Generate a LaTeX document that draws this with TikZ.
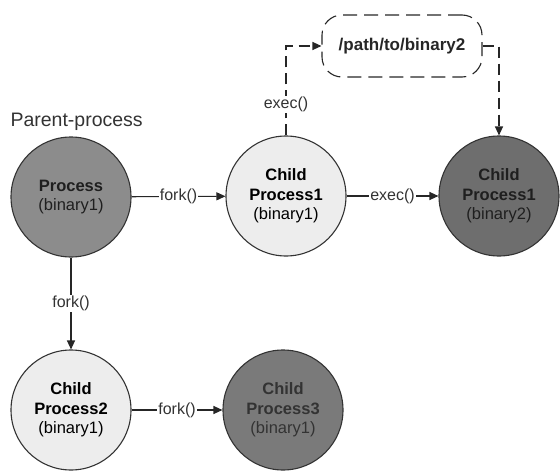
\documentclass[tikz,border=0pt]{standalone}
\usepackage{fontspec}
\setmainfont{Liberation Sans}
\usetikzlibrary{arrows.meta,positioning,calc}
\begin{document}
\begin{tikzpicture}[x=1pt,y=-1pt,
  proc/.style={circle,draw=black!80,line width=1.1pt,minimum size=120pt,inner sep=0pt,align=center,
    font=\fontsize{16.5}{19.5}\selectfont},
  light/.style={proc,fill=black!7},
  mid/.style={proc,fill=black!45,text=black!88},
  dark/.style={proc,fill=black!57,text=black!88},
  conn/.style={line width=1.1pt,draw=black!85,-{Triangle[length=9pt,width=8pt]}},
  dconn/.style={conn,dash pattern=on 11pt off 6pt},
  lbl/.style={fill=white,inner sep=1pt,font=\fontsize{16}{19}\selectfont,text=black!80},
  pathbox/.style={draw=black!85,line width=1.1pt,dash pattern=on 14pt off 7pt,rounded corners=20pt,
    minimum width=160pt,minimum height=62pt,font=\bfseries\fontsize{17}{20}\selectfont,text=black!85}]
\useasboundingbox (0,0) rectangle (560,471);
\node[anchor=west,font=\fontsize{19.5}{22}\selectfont,text=black!80] (title) at (7,122) {Parent-process};
\node[mid] (p) at (71,197) {\textbf{Process}\\(binary1)};
\node[light] (c1) at (286,196) {\textbf{Child}\\\textbf{Process1}\\(binary1)};
\node[dark] (c1b) at (499,196) {\textbf{Child}\\\textbf{Process1}\\(binary2)};
\node[light] (c2) at (71,410) {\textbf{Child}\\\textbf{Process2}\\(binary1)};
\node[dark,fill=black!52,text=black!80] (c3) at (283,410) {\textbf{Child}\\\textbf{Process3}\\(binary1)};
\node[pathbox] (bin) at (402,46) {/path/to/binary2};
\coordinate (up) at (286,46);
\coordinate (rt) at (499,46);
\draw[conn] (p) -- node[lbl] {fork()} (c1);
\draw[conn] (c1) -- node[lbl] {exec()} (c1b);
\draw[conn] (p) -- node[lbl] {fork()} (c2);
\draw[conn] (c2) -- node[lbl] {fork()} (c3);
\draw[dconn] (c1.north) -- node[lbl,pos=0.35] {exec()} (up) -- (bin.west);
\draw[dconn] (bin.east) -- (rt) -- (c1b.north);
\end{tikzpicture}
\end{document}
